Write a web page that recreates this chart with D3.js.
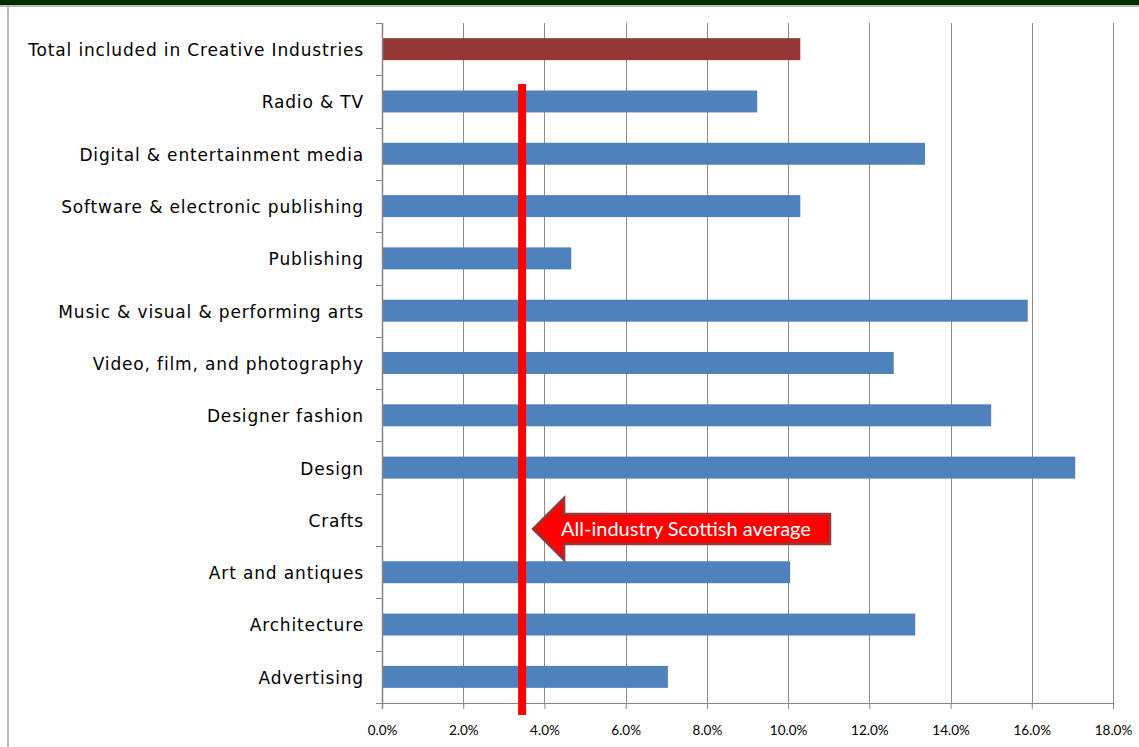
<!DOCTYPE html>
<html>
<head>
<meta charset="utf-8">
<script src="https://cdn.jsdelivr.net/npm/d3@7"></script>
<style>
  html, body { margin: 0; padding: 0; background: #fff; }
  svg { display: block; }
</style>
</head>
<body>
<svg id="chart" width="1139" height="747"></svg>
<script>
// Share of employment growth by creative sub-sector (top to bottom)
const categories = [
  "Total included in Creative Industries",
  "Radio & TV",
  "Digital & entertainment media",
  "Software & electronic publishing",
  "Publishing",
  "Music & visual & performing arts",
  "Video, film, and photography",
  "Designer fashion",
  "Design",
  "Crafts",
  "Art and antiques",
  "Architecture",
  "Advertising"
];
const values = [10.3, 9.24, 13.37, 10.3, 4.66, 15.9, 12.6, 15.0, 17.07, 0, 10.05, 13.13, 7.04];
const xTicks = [0, 2, 4, 6, 8, 10, 12, 14, 16, 18];
const scottishAverage = 3.45;
const averageLabel = "All-industry Scottish average";

const svg = d3.select("#chart");
const W = 1139, H = 747;

// frame: dark band on top, grey rules
svg.append("rect").attr("x", 0).attr("y", 0).attr("width", W).attr("height", 5).attr("fill", "#003000");
svg.append("line").attr("x1", 0).attr("x2", W).attr("y1", 6).attr("y2", 6).attr("stroke", "#a6a6a6").attr("stroke-width", 1.5);
svg.append("line").attr("x1", 8).attr("x2", 8).attr("y1", 6).attr("y2", H).attr("stroke", "#a6a6a6").attr("stroke-width", 1.5);

const plot = { left: 382, right: 1113, top: 23, bottom: 703 };

const x = d3.scaleLinear().domain([0, 18]).range([plot.left, plot.right]);
const y = d3.scaleBand().domain(categories).range([plot.top, plot.bottom])
  .paddingInner(0.58).paddingOuter(0.29);

// vertical gridlines
svg.append("g").selectAll("line").data(xTicks.slice(1)).join("line")
  .attr("x1", d => Math.round(x(d)) + 0.5).attr("x2", d => Math.round(x(d)) + 0.5)
  .attr("y1", plot.top).attr("y2", plot.bottom)
  .attr("stroke", "#8c8c8c").attr("stroke-width", 1);

// bars
svg.append("g").selectAll("rect").data(categories).join("rect")
  .attr("x", x(0))
  .attr("y", d => y(d))
  .attr("width", (d, i) => x(values[i]) - x(0))
  .attr("height", y.bandwidth())
  .attr("fill", (d, i) => i === 0 ? "#953735" : "#4f81bd");

// x axis
const xAxis = d3.axisBottom(x).tickValues(xTicks)
  .tickFormat(d => d.toFixed(1) + "%").tickSize(6).tickPadding(16);
const gx = svg.append("g").attr("transform", `translate(0,${plot.bottom})`).call(xAxis);
gx.select(".domain").attr("d", `M${plot.left - 6},0.5H${plot.right}`).attr("stroke", "#868686");
gx.selectAll(".tick line").attr("stroke", "#868686");
gx.selectAll(".tick text").attr("fill", "#000")
  .style("font-family", "Lato, 'Open Sans', sans-serif").style("font-size", "13.5px");

// y axis: line with ticks on category boundaries
const step = y.step();
const boundaries = d3.range(categories.length + 1).map(i => plot.top + i * step);
svg.append("line").attr("x1", plot.left + 0.5).attr("x2", plot.left + 0.5)
  .attr("y1", plot.top).attr("y2", plot.bottom + 6).attr("stroke", "#868686").attr("stroke-width", 1.5);
svg.append("g").selectAll("line").data(boundaries).join("line")
  .attr("x1", plot.left - 6).attr("x2", plot.left)
  .attr("y1", d => Math.round(d) + 0.5).attr("y2", d => Math.round(d) + 0.5)
  .attr("stroke", "#868686");

// category labels
svg.append("g").selectAll("text").data(categories).join("text")
  .attr("x", 364)
  .attr("y", d => y(d) + y.bandwidth() / 2 + 1)
  .attr("dy", "0.35em")
  .attr("text-anchor", "end")
  .style("font-family", "'DejaVu Sans', Verdana, sans-serif")
  .style("font-size", "17px")
  .style("letter-spacing", "0.85px")
  .attr("fill", "#000")
  .text(d => d);

// average line
const ax = x(scottishAverage);
svg.append("rect").attr("x", ax - 4).attr("y", 84).attr("width", 8).attr("height", 715 - 84).attr("fill", "#ff0000");

// callout arrow pointing at the average line
const cy = y("Crafts") + y.bandwidth() / 2 + 9;
const tipX = ax + 11, headX = tipX + 31, endX = 830;
const arrow = [
  [tipX, cy], [headX, cy - 31], [headX, cy - 15], [endX, cy - 15],
  [endX, cy + 15], [headX, cy + 15], [headX, cy + 31]
];
svg.append("path")
  .attr("d", d3.line()(arrow) + "Z")
  .attr("fill", "#ff0000").attr("stroke", "#8e3b3b").attr("stroke-width", 2.5)
  .attr("stroke-linejoin", "miter");
svg.append("text")
  .attr("x", headX - 3).attr("y", cy).attr("dy", "0.35em")
  .style("font-family", "Lato, 'Open Sans', sans-serif").style("font-size", "20px")
  .attr("fill", "#fff")
  .text(averageLabel);
</script>
</body>
</html>
